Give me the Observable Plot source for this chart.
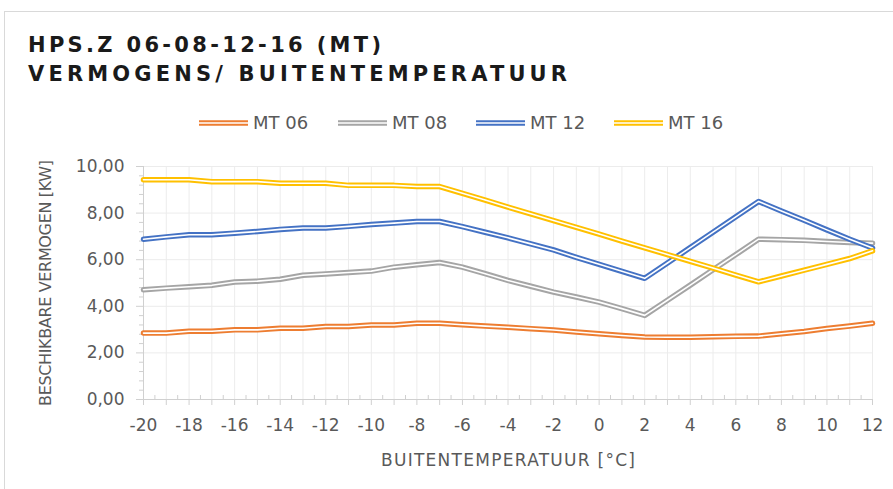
<!DOCTYPE html>
<html>
<head>
<meta charset="utf-8">
<script src="https://cdn.jsdelivr.net/npm/d3@7"></script>
<script src="https://cdn.jsdelivr.net/npm/@observablehq/plot@0.6"></script>
<style>
  html, body { margin: 0; padding: 0; background: #fff; }
  #wrap { position: relative; width: 893px; height: 489px; overflow: hidden; background: #fff; }
  #border { position: absolute; left: 4px; top: 11px; width: 960px; height: 600px; border: 1px solid #d9d9d9; box-sizing: border-box; }
  #header, #chart { position: relative; }
  #header svg, #chart svg { display: block; overflow: visible; }
</style>
</head>
<body>
<div id="wrap">
  <div id="border"></div>
  <div id="header"></div>
  <div id="chart"></div>
</div>
<script>
const titleLines = ["HPS.Z 06-08-12-16 (MT)", "VERMOGENS/ BUITENTEMPERATUUR"];
const xTitle = "BUITENTEMPERATUUR [°C]";
const yTitle = "BESCHIKBARE VERMOGEN [KW]";
const seriesNames = ["MT 06", "MT 08", "MT 12", "MT 16"];
const seriesColors = ["#ED7D31", "#A5A5A5", "#4472C4", "#FFC000"];

const temps = [-20,-19,-18,-17,-16,-15,-14,-13,-12,-11,-10,-9,-8,-7,-6,-5,-4,-3,-2,-1,0,1,2,3,4,5,6,7,8,9,10,11,12];
const mt06 = [2.85,2.85,2.93,2.93,2.99,2.99,3.06,3.06,3.13,3.13,3.20,3.20,3.27,3.27,3.21,3.15,3.10,3.04,2.98,2.90,2.82,2.75,2.68,2.67,2.67,2.69,2.71,2.72,2.82,2.92,3.05,3.15,3.27];
const mt08 = [4.71,4.78,4.84,4.90,5.04,5.08,5.16,5.33,5.39,5.45,5.51,5.68,5.78,5.88,5.68,5.40,5.11,4.86,4.61,4.40,4.18,3.90,3.61,4.26,4.91,5.57,6.22,6.88,6.86,6.83,6.78,6.74,6.71];
const mt12 = [6.88,6.98,7.07,7.07,7.14,7.21,7.30,7.36,7.36,7.43,7.51,7.57,7.64,7.64,7.42,7.18,6.94,6.68,6.42,6.10,5.80,5.50,5.20,5.86,6.52,7.18,7.84,8.50,8.09,7.69,7.28,6.88,6.50];
const mt16 = [9.43,9.43,9.43,9.35,9.35,9.35,9.28,9.28,9.28,9.19,9.19,9.19,9.14,9.14,8.85,8.56,8.26,7.97,7.68,7.39,7.10,6.80,6.51,6.22,5.93,5.64,5.34,5.05,5.30,5.55,5.80,6.05,6.38];

const xLabelTicks = [-20,-18,-16,-14,-12,-10,-8,-6,-4,-2,0,2,4,6,8,10,12];
const xGridTicks = temps;
const xHalfTicks = [-19.5,-18.5,-17.5,-16.5,-15.5,-14.5,-13.5,-12.5,-11.5,-10.5,-9.5,-8.5,-7.5,-6.5,-5.5,-4.5,-3.5,-2.5,-1.5,-0.5,0.5,1.5,2.5,3.5,4.5,5.5,6.5,7.5,8.5,9.5,10.5,11.5];
const yMajorTicks = [0,2,4,6,8,10];
const yMinorTicks = [0.4,0.8,1.2,1.6,2.4,2.8,3.2,3.6,4.4,4.8,5.2,5.6,6.4,6.8,7.2,7.6,8.4,8.8,9.2,9.6];

const seriesValues = [mt06, mt08, mt12, mt16];

// ---------- header (title + legend) ----------
const hdr = d3.select("#header").append("svg").attr("width", 893).attr("height", 140);
const titleWidths = [353, 539];
const titleBaselines = [52, 81];
titleLines.forEach((t, i) => {
  hdr.append("text")
    .attr("x", 28).attr("y", titleBaselines[i])
    .attr("textLength", titleWidths[i]).attr("lengthAdjust", "spacing")
    .attr("font-family", "DejaVu Sans, sans-serif")
    .attr("font-weight", "bold").attr("font-size", 21)
    .attr("fill", "#1a1a1a")
    .text(t);
});
const legendX = [199, 338, 476, 614];
seriesNames.forEach((name, i) => {
  const g = hdr.append("g").attr("transform", `translate(${legendX[i]},123)`);
  g.append("line").attr("x1", 0).attr("x2", 49).attr("y1", 0).attr("y2", 0)
    .attr("stroke", seriesColors[i]).attr("stroke-width", 5.5);
  g.append("line").attr("x1", 0).attr("x2", 49).attr("y1", 0).attr("y2", 0)
    .attr("stroke", "#fff").attr("stroke-width", 1.6);
  g.append("text").attr("x", 54).attr("y", 0).attr("dy", "0.36em")
    .attr("font-family", "DejaVu Sans, sans-serif").attr("font-size", 18)
    .attr("fill", "#595959").text(name);
});

// ---------- chart ----------
const rows = [];
seriesNames.forEach((s, i) => {
  temps.forEach((t, j) => rows.push({series: s, t, v: seriesValues[i][j]}));
});

const lineMarks = [];
seriesNames.forEach((s, i) => {
  const d = rows.filter(r => r.series === s);
  lineMarks.push(Plot.line(d, {x: "t", y: "v", stroke: seriesColors[i], strokeWidth: 5.5, strokeLinejoin: "round"}));
  lineMarks.push(Plot.line(d, {x: "t", y: "v", stroke: "#ffffff", strokeWidth: 1.6, strokeLinejoin: "round"}));
});

const fmtY = d => d.toFixed(2).replace(".", ",");
const axisColor = "#d0d0d0";
const gridColor = "#ececec";

const chart = Plot.plot({
  width: 893,
  height: 349,
  marginTop: 26,
  marginBottom: 90,
  marginLeft: 143,
  marginRight: 21,
  style: {fontFamily: "DejaVu Sans, sans-serif", fontSize: "17px", color: "#595959", background: "transparent", overflow: "visible"},
  x: {domain: [-20, 12]},
  y: {domain: [0, 10]},
  marks: [
    Plot.gridX({ticks: xGridTicks, stroke: gridColor, strokeOpacity: 1}),
    Plot.gridY({ticks: yMajorTicks, stroke: gridColor, strokeOpacity: 1}),
    Plot.tickX(xHalfTicks, {x: d => d, insetTop: 229, stroke: axisColor}),
    Plot.axisX({ticks: xGridTicks, tickSize: 6, tickFormat: () => "", label: null, stroke: axisColor}),
    Plot.axisX({ticks: xLabelTicks, tickSize: 0, tickPadding: 19, tickFormat: d => String(d), label: null, fill: "#595959"}),
    Plot.axisY({ticks: yMinorTicks, tickSize: 4, tickFormat: () => "", label: null, stroke: axisColor}),
    Plot.axisY({ticks: yMajorTicks, tickSize: 7, tickPadding: 12, tickFormat: fmtY, label: null, stroke: axisColor, fill: "#595959"}),
    Plot.ruleY([0], {stroke: axisColor}),
    Plot.ruleX([-20], {stroke: axisColor}),
    Plot.text([xTitle], {frameAnchor: "bottom", dy: 61, fontSize: 17, fill: "#595959", lineAnchor: "middle", textAnchor: "middle", className: "xtitle"}),
    Plot.text([yTitle], {frameAnchor: "left", dx: -98, rotate: -90, fontSize: 16, fill: "#595959", lineAnchor: "middle", textAnchor: "middle", className: "ytitle"}),
    ...lineMarks
  ]
});
document.getElementById("chart").appendChild(chart);
// stretch axis titles to the reference widths
d3.select(chart).selectAll("g.xtitle text").attr("textLength", 254).attr("lengthAdjust", "spacing");
d3.select(chart).selectAll("g.ytitle text").attr("textLength", 246).attr("lengthAdjust", "spacing");
</script>
</body>
</html>
